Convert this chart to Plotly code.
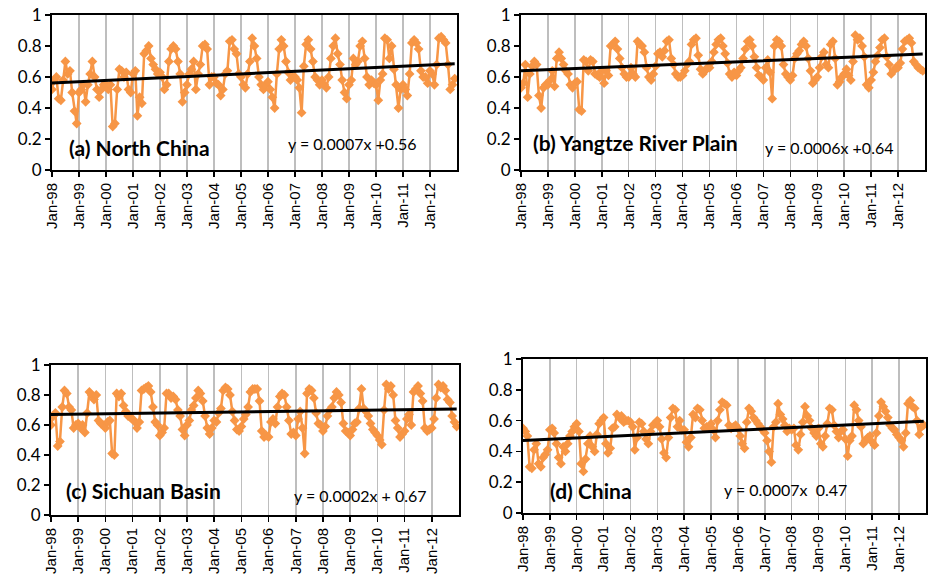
import pandas as pd
import plotly.graph_objects as go

# ---------------- data ----------------
months = pd.date_range("1998-01-01", periods=180, freq="MS")
tick_vals = pd.date_range("1998-01-01", periods=15, freq="12MS")
tick_text = [d.strftime("%b-%y") for d in tick_vals]

north_china = [
    0.52, 0.58, 0.60, 0.46, 0.45, 0.58, 0.70, 0.62, 0.64, 0.50, 0.38, 0.30,
    0.50, 0.52, 0.55, 0.44, 0.55, 0.62, 0.70, 0.60, 0.52, 0.47, 0.52, 0.55,
    0.55, 0.52, 0.55, 0.28, 0.30, 0.52, 0.65, 0.64, 0.60, 0.63, 0.52, 0.50,
    0.62, 0.64, 0.35, 0.47, 0.43, 0.75, 0.77, 0.80, 0.72, 0.68, 0.65, 0.62,
    0.63, 0.60, 0.52, 0.55, 0.70, 0.78, 0.80, 0.78, 0.70, 0.62, 0.44, 0.50,
    0.55, 0.62, 0.65, 0.70, 0.52, 0.62, 0.68, 0.80, 0.81, 0.78, 0.55, 0.60,
    0.60, 0.56, 0.55, 0.48, 0.52, 0.62, 0.64, 0.83, 0.84, 0.78, 0.75, 0.62,
    0.60, 0.55, 0.53, 0.62, 0.70, 0.85, 0.80, 0.72, 0.60, 0.55, 0.52, 0.55,
    0.57, 0.52, 0.47, 0.40, 0.62, 0.78, 0.84, 0.80, 0.70, 0.63, 0.58, 0.60,
    0.60, 0.58, 0.53, 0.37, 0.67, 0.81, 0.84, 0.78, 0.70, 0.60, 0.58, 0.55,
    0.58, 0.55, 0.53, 0.60, 0.72, 0.80, 0.85, 0.75, 0.68, 0.58, 0.50, 0.46,
    0.55, 0.58, 0.72, 0.68, 0.70, 0.80, 0.83, 0.72, 0.60, 0.55, 0.58, 0.56,
    0.55, 0.45, 0.58, 0.62, 0.85, 0.84, 0.72, 0.80, 0.65, 0.55, 0.40, 0.52,
    0.55, 0.52, 0.48, 0.62, 0.82, 0.84, 0.82, 0.78, 0.64, 0.60, 0.60, 0.56,
    0.64, 0.62, 0.55, 0.68, 0.85, 0.86, 0.84, 0.82, 0.68, 0.52, 0.55, 0.59,
]

yangtze = [
    0.53, 0.56, 0.68, 0.47, 0.62, 0.67, 0.70, 0.68, 0.48, 0.40, 0.53, 0.55,
    0.55, 0.58, 0.64, 0.54, 0.72, 0.76, 0.72, 0.68, 0.64, 0.62, 0.55, 0.53,
    0.56, 0.57, 0.39, 0.38, 0.71, 0.70, 0.64, 0.71, 0.70, 0.62, 0.61, 0.60,
    0.64, 0.56, 0.64, 0.61, 0.80, 0.81, 0.83, 0.78, 0.72, 0.66, 0.62, 0.60,
    0.60, 0.66, 0.62, 0.60, 0.83, 0.81, 0.80, 0.76, 0.66, 0.60, 0.58, 0.62,
    0.67, 0.75, 0.76, 0.73, 0.77, 0.83, 0.84, 0.72, 0.68, 0.62, 0.60, 0.60,
    0.61, 0.64, 0.68, 0.70, 0.81, 0.84, 0.85, 0.74, 0.65, 0.62, 0.64, 0.66,
    0.66, 0.70, 0.76, 0.81, 0.84, 0.85, 0.80, 0.75, 0.69, 0.62, 0.60, 0.63,
    0.61, 0.64, 0.66, 0.72, 0.78, 0.83, 0.84, 0.80, 0.73, 0.66, 0.61, 0.60,
    0.58, 0.66, 0.71, 0.63, 0.46, 0.80, 0.84, 0.83, 0.80, 0.68, 0.62, 0.60,
    0.58, 0.61, 0.72, 0.75, 0.77, 0.81, 0.83, 0.80, 0.72, 0.64, 0.56, 0.58,
    0.60, 0.66, 0.73, 0.76, 0.68, 0.66, 0.81, 0.83, 0.72, 0.55, 0.57, 0.60,
    0.62, 0.65, 0.61, 0.58, 0.70, 0.87, 0.84, 0.85, 0.80, 0.73, 0.55, 0.53,
    0.58, 0.63, 0.70, 0.74, 0.79, 0.84, 0.85, 0.73, 0.68, 0.62, 0.64, 0.66,
    0.66, 0.69, 0.78, 0.83, 0.84, 0.85, 0.82, 0.70, 0.68, 0.66, 0.65, 0.64,
]

sichuan = [
    0.60, 0.66, 0.68, 0.46, 0.49, 0.72, 0.83, 0.81, 0.72, 0.70, 0.58, 0.60,
    0.61, 0.58, 0.60, 0.55, 0.68, 0.82, 0.80, 0.77, 0.80, 0.63, 0.61, 0.60,
    0.58, 0.62, 0.63, 0.41, 0.40, 0.81, 0.79, 0.81, 0.73, 0.69, 0.66, 0.65,
    0.64, 0.62, 0.58, 0.62, 0.83, 0.84, 0.85, 0.86, 0.82, 0.72, 0.62, 0.60,
    0.53, 0.55, 0.58, 0.81, 0.81, 0.78, 0.79, 0.77, 0.70, 0.66, 0.57, 0.53,
    0.60, 0.63, 0.70, 0.73, 0.78, 0.83, 0.81, 0.76, 0.66, 0.58, 0.54, 0.58,
    0.63, 0.62, 0.68, 0.71, 0.83, 0.85, 0.84, 0.80, 0.69, 0.63, 0.57, 0.56,
    0.59, 0.64, 0.67, 0.72, 0.82, 0.84, 0.84, 0.84, 0.76, 0.56, 0.52, 0.53,
    0.52, 0.62, 0.64, 0.61, 0.72, 0.79, 0.81, 0.80, 0.72, 0.63, 0.54, 0.55,
    0.53, 0.64, 0.69, 0.58, 0.41, 0.81, 0.84, 0.83, 0.78, 0.68, 0.61, 0.60,
    0.56, 0.59, 0.66, 0.70, 0.72, 0.78, 0.82, 0.80, 0.75, 0.61, 0.56, 0.55,
    0.53, 0.57, 0.61, 0.62, 0.71, 0.84, 0.71, 0.69, 0.66, 0.61, 0.57, 0.55,
    0.53, 0.50, 0.47, 0.70, 0.87, 0.84, 0.86, 0.80, 0.63, 0.58, 0.52, 0.54,
    0.56, 0.64, 0.67, 0.60, 0.82, 0.84, 0.86, 0.81, 0.76, 0.58, 0.56, 0.57,
    0.58, 0.64, 0.78, 0.87, 0.85, 0.86, 0.83, 0.77, 0.75, 0.66, 0.62, 0.59,
]

china = [
    0.55, 0.53, 0.50, 0.30, 0.29, 0.41, 0.45, 0.32, 0.30, 0.36, 0.38, 0.41,
    0.54, 0.55, 0.52, 0.45, 0.36, 0.32, 0.43, 0.40, 0.45, 0.50, 0.53, 0.56,
    0.58, 0.53, 0.32, 0.27, 0.35, 0.45, 0.50, 0.43, 0.40, 0.51, 0.58, 0.60,
    0.62, 0.45, 0.39, 0.42, 0.55, 0.56, 0.64, 0.62, 0.63, 0.59, 0.60, 0.60,
    0.59, 0.56, 0.41, 0.49, 0.59, 0.58, 0.53, 0.48, 0.45, 0.53, 0.57, 0.58,
    0.60, 0.56, 0.48, 0.39, 0.36, 0.49, 0.62, 0.68, 0.67, 0.56, 0.60, 0.54,
    0.54, 0.46, 0.43, 0.49, 0.64, 0.62, 0.68, 0.67, 0.60, 0.55, 0.56, 0.56,
    0.58, 0.54, 0.49, 0.60, 0.67, 0.72, 0.71, 0.70, 0.57, 0.55, 0.56, 0.57,
    0.55, 0.50, 0.45, 0.42, 0.59, 0.68, 0.66, 0.62, 0.60, 0.58, 0.56, 0.54,
    0.52, 0.47, 0.40, 0.33, 0.56, 0.59, 0.71, 0.64, 0.61, 0.57, 0.53, 0.55,
    0.54, 0.55, 0.44, 0.41, 0.51, 0.59, 0.69, 0.63, 0.60, 0.55, 0.52, 0.50,
    0.55, 0.45, 0.43, 0.50, 0.58, 0.68, 0.67, 0.57, 0.53, 0.49, 0.53, 0.54,
    0.48, 0.37, 0.47, 0.50, 0.70, 0.67, 0.60, 0.56, 0.45, 0.47, 0.49, 0.50,
    0.46, 0.44, 0.52, 0.63, 0.72, 0.69, 0.66, 0.62, 0.57, 0.55, 0.54, 0.51,
    0.49, 0.47, 0.43, 0.52, 0.71, 0.73, 0.69, 0.68, 0.60, 0.51, 0.56, 0.57,
]

panel_titles = ["(a) North China", "(b) Yangtze River Plain", "(c) Sichuan Basin", "(d) China"]
equations = ["y = 0.0007x +0.56", "y = 0.0006x +0.64", "y = 0.0002x + 0.67", "y = 0.0007x  0.47"]
slopes = [0.0007, 0.0006, 0.0002, 0.0007]
intercepts = [0.56, 0.64, 0.67, 0.47]
series = [north_china, yangtze, sichuan, china]

# ---------------- layout geometry (pixels) ----------------
W, H = 931, 585
# (left, right, top, bottom) of each plot area in pixels
boxes = [(52, 457, 15, 170), (521, 925, 15, 170), (51, 459, 365, 515), (523, 926, 359, 513)]
title_pos = [(67, 147), (531, 142), (64, 490), (548, 490)]
eq_pos = [(286, 143), (763, 147), (292, 495), (722, 489)]

ORANGE = "#F79646"
fig = go.Figure()
layout = dict(
    width=W, height=H, margin=dict(l=0, r=0, t=0, b=0, autoexpand=False),
    paper_bgcolor="white", plot_bgcolor="white", showlegend=False,
    annotations=[],
)

for i, vals in enumerate(series):
    n = "" if i == 0 else str(i + 1)
    xa, ya = "x" + n, "y" + n
    fig.add_trace(go.Scatter(
        x=months, y=vals, xaxis=xa, yaxis=ya, mode="lines+markers",
        line=dict(color=ORANGE, width=2.5),
        marker=dict(symbol="diamond", size=7.5, color=ORANGE),
    ))
    idx = list(range(1, len(vals) + 1))
    trend = [slopes[i] * k + intercepts[i] for k in idx]
    fig.add_trace(go.Scatter(
        x=months, y=trend, xaxis=xa, yaxis=ya, mode="lines",
        line=dict(color="black", width=3),
    ))
    l, r, t, b = boxes[i]
    layout["xaxis" + n] = dict(
        domain=[l / W, r / W], anchor=ya, type="date", automargin=False,
        range=["1998-01-01", "2013-01-01"],
        tickvals=list(tick_vals), ticktext=tick_text, tickangle=-90,
        tickfont=dict(family="Liberation Sans, Arial", size=15, color="black"),
        ticks="outside", ticklen=5, tickwidth=1.5, tickcolor="black",
        showgrid=True, gridcolor="#BEBEBE", gridwidth=1.5,
        showline=True, linecolor="black", linewidth=2, mirror=True,
        zeroline=False, fixedrange=True,
    )
    layout["yaxis" + n] = dict(
        domain=[1 - b / H, 1 - t / H], anchor=xa, automargin=False,
        range=[0, 1], tickvals=[0, 0.2, 0.4, 0.6, 0.8, 1],
        ticktext=["0", "0.2", "0.4", "0.6", "0.8", "1"],
        tickfont=dict(family="Lato, Carlito, sans-serif", size=17, color="black"),
        ticks="outside", ticklen=5, tickwidth=1.5, tickcolor="black",
        showgrid=False, showline=True, linecolor="black", linewidth=2, mirror=True,
        zeroline=False, fixedrange=True,
    )
    tx, ty = title_pos[i]
    layout["annotations"].append(dict(
        text="<b>" + panel_titles[i] + "</b>", xref="paper", yref="paper",
        x=tx / W, y=1 - ty / H, xanchor="left", yanchor="middle", showarrow=False,
        font=dict(family="Lato, Carlito, sans-serif", size=21, color="black"),
    ))
    ex, ey = eq_pos[i]
    layout["annotations"].append(dict(
        text=equations[i], xref="paper", yref="paper",
        x=ex / W, y=1 - ey / H, xanchor="left", yanchor="middle", showarrow=False,
        font=dict(family="Lato, Carlito, sans-serif", size=16, color="black"),
    ))

fig.update_layout(**layout)
fig.write_html("out.html", config={"displayModeBar": False, "staticPlot": True})

# remove the browser's default page margin so the figure sits at (0, 0)
with open("out.html", encoding="utf-8") as f:
    html = f.read()
html = html.replace("<body>", '<body style="margin:0;padding:0;overflow:hidden">', 1)
with open("out.html", "w", encoding="utf-8") as f:
    f.write(html)
